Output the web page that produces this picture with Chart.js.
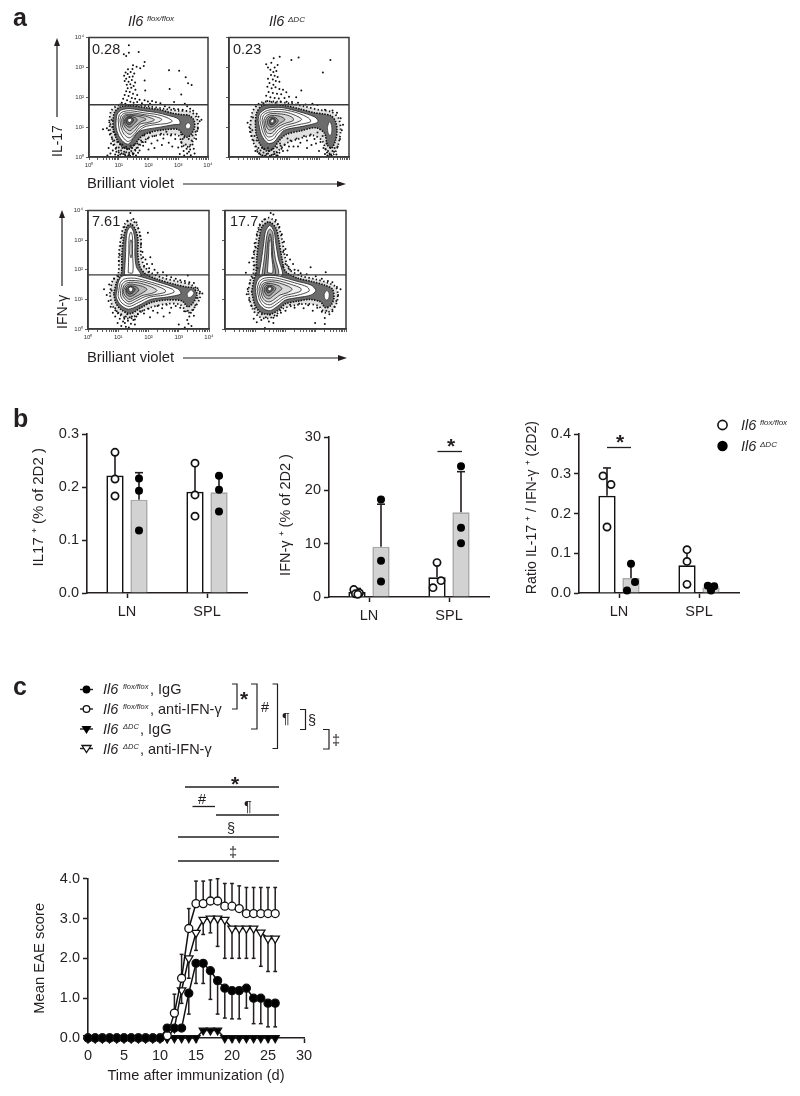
<!DOCTYPE html>
<html>
<head>
<meta charset="utf-8">
<script src="https://cdn.jsdelivr.net/npm/chart.js@4"></script>
<style>
  html, body { margin: 0; background: #fff; }
  #page { position: relative; width: 800px; height: 1096px; overflow: hidden; }
  canvas { position: absolute; }
  canvas.flow { filter: blur(0.4px); }
  svg { position: absolute; left: 0; top: 0; font-family: "Liberation Sans", Arial, sans-serif; fill: #231f20; }
  svg line, svg path.br { stroke: #231f20; fill: none; }
  .it { font-style: italic; }
</style>
</head>
<body>
<div id="page">
  <canvas id="flow1" class="flow"></canvas>
  <canvas id="flow2" class="flow"></canvas>
  <canvas id="flow3" class="flow"></canvas>
  <canvas id="flow4" class="flow"></canvas>
  <canvas id="bar1"></canvas>
  <canvas id="bar2"></canvas>
  <canvas id="bar3"></canvas>
  <canvas id="eae"></canvas>

  <!-- labels, arrows and significance marks around the charts -->
  <svg width="800" height="1096">
    <text x="13" y="26" font-size="25" font-weight="bold">a</text>
    <text x="13" y="427" font-size="25" font-weight="bold">b</text>
    <text x="13" y="695" font-size="25" font-weight="bold">c</text>

    <text x="128" y="26" font-size="14.5" class="it">Il6</text>
    <text x="147" y="21" font-size="8" class="it">flox/flox</text>
    <text x="269" y="26" font-size="14.5" class="it">Il6</text>
    <text x="288" y="22" font-size="8" class="it">ΔDC</text>

    <text x="92" y="54" font-size="14.5">0.28</text>
    <text x="233" y="54" font-size="14.5">0.23</text>
    <text x="92" y="226" font-size="14.5">7.61</text>
    <text x="230" y="226" font-size="14.5">17.7</text>

    <text transform="translate(62,157) rotate(-90)" font-size="14">IL-17</text>
    <text transform="translate(67,329) rotate(-90)" font-size="14">IFN-γ</text>
    <text x="87" y="188" font-size="14.8">Brilliant violet</text>
    <text x="87" y="362" font-size="14.8">Brilliant violet</text>

    <line x1="57" y1="117" x2="57" y2="44" stroke-width="1.2"/>
    <polygon points="57,38 54,46 60,46"/>
    <line x1="62" y1="286" x2="62" y2="216" stroke-width="1.2"/>
    <polygon points="62,210 59,218 65,218"/>
    <line x1="183" y1="184" x2="338" y2="184" stroke-width="1.2"/>
    <polygon points="346,184 337,181 337,187"/>
    <line x1="183" y1="358" x2="338" y2="358" stroke-width="1.2"/>
    <polygon points="347,358 338,355 338,361"/>

    <!-- panel b marks -->
    <line x1="437.5" y1="451.5" x2="462" y2="451.5" stroke-width="1.3"/>
    <text x="451" y="453" font-size="21" font-weight="bold" text-anchor="middle">*</text>
    <line x1="607" y1="447.5" x2="631" y2="447.5" stroke-width="1.3"/>
    <text x="620" y="449" font-size="21" font-weight="bold" text-anchor="middle">*</text>

    <circle cx="722.5" cy="425" r="4.6" fill="#fff" stroke="#111" stroke-width="1.6"/>
    <circle cx="722.5" cy="446" r="5.2" fill="#000"/>
    <text x="741" y="430" font-size="14.5" class="it">Il6</text>
    <text x="760" y="425" font-size="8" class="it">flox/flox</text>
    <text x="741" y="451" font-size="14.5" class="it">Il6</text>
    <text x="760" y="447" font-size="8" class="it">ΔDC</text>

    <!-- panel c legend -->
    <g stroke-width="1.4">
      <line x1="80" y1="689.5" x2="93" y2="689.5"/>
      <line x1="80" y1="709" x2="93" y2="709"/>
      <line x1="80" y1="729" x2="93" y2="729"/>
      <line x1="80" y1="748.5" x2="93" y2="748.5"/>
    </g>
    <circle cx="86.5" cy="689.5" r="3.9" fill="#000"/>
    <circle cx="86.5" cy="709" r="3.3" fill="#fff" stroke="#111" stroke-width="1.3"/>
    <polygon points="81.5,726 91.5,726 86.5,734" fill="#000"/>
    <polygon points="82,745.5 91,745.5 86.5,752.5" fill="#fff" stroke="#111" stroke-width="1.3"/>

    <text x="103" y="694" font-size="14.5" class="it">Il6</text>
    <text x="123" y="689" font-size="7.5" class="it">flox/flox</text>
    <text x="150" y="694" font-size="14.5">, IgG</text>
    <text x="103" y="714" font-size="14.5" class="it">Il6</text>
    <text x="123" y="709" font-size="7.5" class="it">flox/flox</text>
    <text x="150" y="714" font-size="14.5">, anti-IFN-γ</text>
    <text x="103" y="734" font-size="14.5" class="it">Il6</text>
    <text x="123" y="729" font-size="7.5" class="it">ΔDC</text>
    <text x="140" y="734" font-size="14.5">, IgG</text>
    <text x="103" y="753.5" font-size="14.5" class="it">Il6</text>
    <text x="123" y="749" font-size="7.5" class="it">ΔDC</text>
    <text x="140" y="753.5" font-size="14.5">, anti-IFN-γ</text>

    <g stroke-width="1.2">
      <path class="br" d="M232,684 H237 V709 H232"/>
      <path class="br" d="M251,684 H257 V729 H251"/>
      <path class="br" d="M272.5,684 H277.5 V748.5 H272.5"/>
      <path class="br" d="M300,709.5 H305.5 V729.5 H300"/>
      <path class="br" d="M323,729.5 H329 V749 H323"/>
    </g>
    <text x="244" y="706" font-size="21" font-weight="bold" text-anchor="middle">*</text>
    <text x="265" y="712" font-size="14.5" text-anchor="middle">#</text>
    <text x="286" y="723" font-size="14.5" text-anchor="middle">¶</text>
    <text x="312" y="725" font-size="14.5" text-anchor="middle">§</text>
    <text x="336" y="745" font-size="14.5" text-anchor="middle">‡</text>

    <g stroke-width="1.3">
      <line x1="185" y1="787" x2="279" y2="787"/>
      <line x1="192.5" y1="806.5" x2="215" y2="806.5"/>
      <line x1="216" y1="815" x2="279" y2="815"/>
      <line x1="178" y1="837" x2="279" y2="837"/>
      <line x1="178" y1="861" x2="279" y2="861"/>
    </g>
    <text x="235" y="791" font-size="21" font-weight="bold" text-anchor="middle">*</text>
    <text x="202" y="804" font-size="14.5" text-anchor="middle">#</text>
    <text x="248" y="811" font-size="14.5" text-anchor="middle">¶</text>
    <text x="231" y="833" font-size="14.5" text-anchor="middle">§</text>
    <text x="233" y="857" font-size="14.5" text-anchor="middle">‡</text>
  </svg>
</div>

<script>
// ---------- panel a: flow plots, all values in log10 decades, flat x,y lists ----------
const decadeLabels = ["10⁰", "10¹", "10²", "10³", "10⁴"];
const minorDecades = [0.3, 0.48, 0.6, 0.7, 0.78, 0.85, 0.9, 0.95];
const gateP1 = 1.75;
const gateP2 = 1.75;
const gateP3 = 1.83;
const gateP4 = 1.83;

const p1Dots = [
  1.34,3.74, 1.34,3.49, 1.17,3.44, 1.25,3.38, 1.67,3.52, 1.87,3.18, 1.84,3.05, 1.48,3.07, 1.31,2.94, 1.23,2.83,
  1.46,2.95, 1.6,3.02, 1.72,2.97, 1.18,2.72, 1.3,2.78, 1.4,2.85, 1.52,2.8, 1.25,2.62, 1.36,2.68, 1.47,2.7,
  1.2,2.55, 1.33,2.52, 1.44,2.58, 1.55,2.5, 1.27,2.42, 1.39,2.44, 1.5,2.38, 1.3,2.3, 1.42,2.32, 1.56,2.25,
  1.25,2.2, 1.37,2.18, 1.48,2.12, 1.62,2.08, 1.2,2.08, 1.33,2.04, 1.44,1.98, 1.55,1.95, 1.7,1.92, 1.15,1.95,
  1.28,1.9, 1.39,1.85, 1.5,1.82, 1.62,1.84, 1.78,1.8, 1.1,1.82, 1.22,1.78, 1.87,2.56, 1.89,2.23, 1.87,1.9,
  2.69,2.91, 3.03,2.89, 3.25,2.67, 3.33,2.47, 3.45,2.41, 2.71,2.28, 3.1,2.09, 2.86,1.84, 3.22,1.78, 1.98,1.86,
  2.12,1.88, 2.25,1.83, 2.4,1.8, 2.05,1.78, 1.05,1.76,
  0.47,0.93, 0.6,0.96, 0.66,0.9, 0.72,1.1, 0.76,1.25, 0.7,0.75, 0.78,0.6, 0.74,0.45, 0.82,0.4, 0.66,0.3,
  0.8,0.22, 0.9,0.28, 0.62,0.05, 0.72,0.12, 0.88,0.08, 1.0,0.15, 1.08,0.22, 1.15,0.1, 1.25,0.16, 1.32,0.05,
  1.42,0.2, 1.5,0.12, 1.6,0.3, 1.7,0.22, 1.82,0.38, 1.9,0.5, 1.98,0.62, 2.1,0.45, 2.2,0.7, 2.3,0.55,
  2.42,0.78, 2.5,0.62, 2.6,0.85, 2.68,0.48, 2.75,0.72, 2.05,0.8, 1.75,0.55, 1.62,0.45, 1.85,0.72, 2.9,0.6,
  3.0,0.32, 3.1,0.5, 3.18,0.2, 3.25,0.42, 3.3,0.12, 3.38,0.35, 3.45,0.55, 3.52,0.28, 3.6,0.6, 3.1,0.75,
  3.2,0.65, 3.35,0.6, 3.48,0.72, 3.58,0.85, 3.66,0.95, 3.72,1.2, 3.68,1.35, 3.62,1.45, 3.5,1.55, 3.4,1.62,
  3.3,1.7, 3.15,1.58, 3.0,1.6, 2.85,1.62, 2.7,1.66, 2.55,1.7, 3.78,1.25, 1.2,0.3, 1.35,0.28, 1.05,0.42,
  0.95,0.5, 1.0,0.32, 1.05,0.08, 1.12,0.3, 1.18,0.18, 1.22,0.05, 1.28,0.26, 1.35,0.14, 1.38,0.04, 1.45,0.3,
  1.48,0.08, 1.55,0.24, 1.58,0.05, 1.65,0.14, 0.92,0.18, 0.98,0.05, 0.85,0.55, 0.9,0.75, 0.82,0.85, 0.78,1.0,
  1.12,0.42, 1.25,0.34, 1.4,0.38, 1.52,0.4, 1.68,0.42, 1.78,0.5, 3.05,0.1, 3.12,0.35, 3.2,0.05, 3.28,0.28,
  3.36,0.18, 3.42,0.06, 3.48,0.42, 3.55,0.12, 3.15,0.6, 3.4,0.25, 2.2,0.3, 2.45,0.4, 2.0,0.25, 2.8,0.35
];
const p1Contours = [
  [0.91,1.22, 0.95,1.44, 1.1,1.58, 1.38,1.62, 1.83,1.55, 2.27,1.49, 2.67,1.39, 3.0,1.28, 3.06,1.11, 2.83,1.08, 2.39,1.0, 1.94,0.93, 1.66,0.84, 1.49,0.62, 1.32,0.43, 1.15,0.51, 0.99,0.73, 0.91,1.0],
  [0.98,1.24, 1.02,1.42, 1.15,1.52, 1.4,1.55, 1.85,1.48, 2.3,1.42, 2.62,1.32, 2.8,1.2, 2.6,1.12, 2.2,1.08, 1.85,1.0, 1.62,0.82, 1.42,0.58, 1.3,0.52, 1.15,0.65, 1.02,0.9],
  [1.04,1.24, 1.08,1.38, 1.2,1.47, 1.45,1.48, 1.85,1.42, 2.2,1.36, 2.45,1.26, 2.3,1.16, 1.95,1.1, 1.7,0.98, 1.52,0.76, 1.35,0.64, 1.18,0.76, 1.08,0.98],
  [1.1,1.24, 1.14,1.36, 1.26,1.43, 1.5,1.42, 1.85,1.38, 2.1,1.3, 2.2,1.24, 2.0,1.16, 1.72,1.1, 1.55,0.9, 1.38,0.76, 1.22,0.85, 1.12,1.04],
  [1.15,1.25, 1.2,1.36, 1.32,1.4, 1.55,1.38, 1.8,1.33, 1.92,1.26, 1.75,1.18, 1.55,1.02, 1.38,0.88, 1.24,0.96, 1.16,1.1],
  [1.2,1.25, 1.26,1.34, 1.4,1.36, 1.55,1.32, 1.62,1.24, 1.52,1.12, 1.38,1.0, 1.26,1.04, 1.2,1.14],
  [1.24,1.26, 1.32,1.33, 1.44,1.32, 1.5,1.24, 1.42,1.12, 1.32,1.08, 1.25,1.15],
  [1.3,1.26, 1.38,1.3, 1.44,1.24, 1.38,1.16, 1.31,1.18]
];
const p1RimInner = [0.8,1.2, 0.86,1.5, 1.05,1.68, 1.4,1.72, 1.9,1.65, 2.4,1.58, 2.8,1.47, 3.1,1.42, 3.35,1.4, 3.52,1.25, 3.55,1.0, 3.45,0.78, 3.3,0.66, 3.15,0.75, 3.0,0.92, 2.6,0.92, 2.1,0.84, 1.8,0.72, 1.55,0.44, 1.35,0.27, 1.1,0.37, 0.92,0.62, 0.82,0.92];
const p1RimOuter = [0.68,1.2, 0.75,1.55, 1.0,1.74, 1.4,1.74, 2.0,1.7, 2.5,1.62, 3.0,1.55, 3.4,1.52, 3.62,1.32, 3.66,0.98, 3.55,0.65, 3.35,0.35, 3.15,0.4, 3.0,0.72, 2.5,0.75, 2.0,0.65, 1.7,0.38, 1.45,0.12, 1.1,0.12, 0.85,0.42, 0.72,0.85];
const p1Hole = [3.24,1.05, 3.32,1.15, 3.41,1.08, 3.38,0.96, 3.28,0.95];

const p2Dots = [
  1.69,3.36, 1.49,3.31, 1.24,3.11, 1.41,3.16, 2.08,3.25, 2.32,3.33, 3.38,3.25, 3.13,2.83, 1.3,3.0, 1.52,3.0,
  1.62,3.08, 1.38,2.92, 1.48,2.85, 1.58,2.88, 1.4,2.75, 1.52,2.72, 1.62,2.68, 1.3,2.62, 1.46,2.6, 1.56,2.55,
  1.68,2.52, 1.35,2.48, 1.48,2.42, 1.28,2.35, 1.42,2.3, 1.55,2.34, 1.68,2.28, 1.8,2.25, 1.32,2.18, 1.46,2.14,
  1.6,2.12, 1.74,2.1, 1.91,2.17, 1.24,2.05, 1.38,2.0, 1.52,1.98, 1.66,1.96, 1.85,1.98, 2.0,2.02, 2.24,2.0,
  2.41,2.23, 1.28,1.88, 1.42,1.84, 1.56,1.82, 1.72,1.86, 1.92,1.85, 2.1,1.84, 2.3,1.82, 2.55,1.76, 2.78,1.78,
  2.95,1.74, 1.15,1.8,
  0.62,1.15, 0.68,1.0, 0.7,0.85, 0.75,0.7, 0.8,1.32, 0.82,0.55, 0.9,0.35, 0.95,0.18, 1.05,0.08, 1.15,0.15,
  1.2,0.04, 1.3,0.12, 1.42,0.07, 1.5,0.18, 1.58,0.05, 1.68,0.14, 1.75,0.28, 1.85,0.4, 1.95,0.22, 2.05,0.55,
  2.15,0.35, 2.25,0.62, 2.38,0.48, 2.5,0.7, 2.6,0.55, 2.72,0.75, 2.85,0.6, 2.95,0.82, 3.05,0.5, 3.12,0.7,
  3.15,0.3, 3.2,0.1, 3.28,0.05, 3.35,0.12, 3.42,0.04, 3.5,0.18, 3.58,0.08, 3.62,0.35, 3.7,0.6, 3.76,0.9,
  3.8,1.08, 3.72,1.3, 3.6,1.48, 3.45,1.56, 3.2,1.58, 1.95,0.62, 1.7,0.45, 1.6,0.32, 1.1,0.3, 1.3,0.3,
  0.92,0.55, 0.98,0.3, 1.05,0.22, 1.12,0.05, 1.18,0.28, 1.25,0.1, 1.35,0.2, 1.38,0.02, 1.45,0.28, 1.52,0.1,
  1.6,0.15, 0.78,0.9, 0.85,0.7, 0.88,0.2, 1.0,0.12, 1.62,0.05, 1.72,0.38, 1.8,0.2, 3.22,0.25, 3.3,0.2,
  3.38,0.3, 3.45,0.2, 3.25,0.45, 3.52,0.3, 3.32,0.02, 3.4,0.08, 2.3,0.35, 2.0,0.35, 2.6,0.3, 2.9,0.45, 3.0,0.2, 2.75,0.4
];
const p2Contours = [
  [0.97,1.23, 1.02,1.45, 1.24,1.62, 1.5,1.66, 1.8,1.65, 2.36,1.51, 2.86,1.34, 2.97,1.18, 2.7,1.08, 2.36,1.01, 1.85,0.9, 1.66,0.7, 1.5,0.5, 1.3,0.46, 1.08,0.74],
  [1.03,1.22, 1.08,1.42, 1.28,1.56, 1.55,1.6, 1.85,1.58, 2.3,1.47, 2.66,1.3, 2.72,1.18, 2.3,1.08, 1.9,0.98, 1.65,0.82, 1.48,0.6, 1.3,0.56, 1.14,0.8],
  [1.1,1.22, 1.15,1.4, 1.32,1.5, 1.6,1.52, 1.9,1.5, 2.2,1.4, 2.42,1.26, 2.2,1.14, 1.88,1.06, 1.65,0.92, 1.45,0.7, 1.28,0.68, 1.18,0.88],
  [1.16,1.22, 1.22,1.36, 1.38,1.45, 1.62,1.45, 1.88,1.42, 2.12,1.32, 2.14,1.22, 1.85,1.12, 1.62,1.0, 1.44,0.8, 1.28,0.8, 1.2,0.98],
  [1.22,1.22, 1.28,1.34, 1.42,1.39, 1.62,1.38, 1.8,1.32, 1.86,1.24, 1.68,1.12, 1.5,0.96, 1.34,0.9, 1.24,1.04],
  [1.28,1.22, 1.34,1.32, 1.48,1.34, 1.6,1.28, 1.64,1.2, 1.52,1.06, 1.38,1.0, 1.3,1.08],
  [1.34,1.22, 1.42,1.3, 1.52,1.28, 1.56,1.2, 1.48,1.1, 1.38,1.08],
  [1.4,1.24, 1.47,1.27, 1.5,1.2, 1.44,1.14, 1.39,1.17]
];
const p2RimInner = [0.88,1.2, 0.92,1.48, 1.1,1.72, 1.5,1.76, 1.9,1.72, 2.4,1.6, 2.85,1.48, 3.1,1.45, 3.4,1.38, 3.55,1.2, 3.6,0.9, 3.55,0.55, 3.42,0.3, 3.28,0.4, 3.18,0.8, 2.9,0.98, 2.4,0.88, 1.9,0.75, 1.65,0.52, 1.48,0.28, 1.25,0.2, 1.02,0.45, 0.9,0.8];
const p2RimOuter = [0.72,1.2, 0.8,1.55, 1.05,1.82, 1.5,1.86, 2.0,1.8, 2.5,1.7, 3.0,1.58, 3.4,1.52, 3.65,1.3, 3.72,0.9, 3.65,0.45, 3.5,0.1, 3.3,0.1, 3.1,0.55, 2.8,0.72, 2.3,0.6, 1.9,0.45, 1.65,0.22, 1.4,0.05, 1.1,0.05, 0.85,0.4, 0.72,0.85];
const p2Hole = [3.28,1.0, 3.35,1.18, 3.42,1.05, 3.42,0.8, 3.36,0.72, 3.3,0.82];

const p3Dots = [
  1.4,3.92, 1.5,3.72, 1.3,3.66, 1.6,3.6, 1.2,3.45, 1.66,3.4, 1.12,3.1, 1.72,3.15, 1.08,2.8, 1.75,2.85,
  1.05,2.5, 1.8,2.6, 1.02,2.3, 1.82,2.42, 1.12,2.05, 1.98,3.25, 1.9,2.35, 2.06,2.42, 2.12,2.2, 1.95,2.2,
  2.02,2.05, 2.2,2.0, 1.85,2.1, 2.0,1.92, 2.3,1.9, 2.48,1.92, 3.3,1.81, 2.6,1.8, 2.75,1.75, 2.9,1.7,
  3.05,1.65, 3.2,1.62, 3.35,1.58, 3.5,1.55, 3.62,1.38, 3.7,1.26, 3.78,1.2, 3.62,1.05, 3.55,0.8, 3.48,0.65,
  3.4,0.55, 3.35,0.42, 3.28,0.3, 3.5,0.45, 3.3,0.62, 3.18,0.6, 3.05,0.72, 2.9,0.78, 2.75,0.72, 2.6,0.82,
  2.45,0.7, 2.3,0.78, 2.15,0.62, 2.0,0.68, 1.85,0.52, 1.72,0.6, 1.6,0.42, 1.5,0.3, 1.42,0.18, 1.32,0.28,
  1.22,0.2, 1.16,0.25, 1.05,0.35, 0.98,0.2, 0.9,0.42, 0.82,0.55, 0.75,0.75, 0.68,0.95, 0.62,1.15, 0.53,1.34,
  0.7,1.5, 0.78,1.3, 0.86,1.7, 1.0,1.78, 0.95,0.6, 1.1,0.5, 1.25,0.42, 1.38,0.4, 2.05,0.4, 2.5,0.42,
  3.0,0.15, 3.42,0.1, 3.2,0.05, 1.35,0.05, 1.25,0.08, 2.3,0.55, 2.7,0.55, 1.55,0.15, 1.1,0.1, 3.32,0.18,
  0.9,0.7, 1.0,0.55, 1.2,0.35, 1.3,0.5, 1.45,0.42, 1.55,0.32, 1.65,0.5, 1.8,0.62
];
const p3Contours = [
  [0.96,1.3, 1.0,1.58, 1.12,1.78, 1.4,1.82, 1.62,1.8, 2.29,1.6, 2.96,1.36, 3.07,1.19, 2.62,1.08, 2.07,1.0, 1.68,0.8, 1.34,0.67, 1.07,0.82, 0.93,1.08],
  [1.02,1.3, 1.06,1.54, 1.18,1.68, 1.42,1.72, 1.65,1.7, 2.25,1.53, 2.8,1.34, 2.84,1.24, 2.5,1.14, 2.05,1.08, 1.68,0.9, 1.36,0.76, 1.12,0.88, 1.0,1.1],
  [1.08,1.3, 1.12,1.5, 1.25,1.62, 1.45,1.64, 1.7,1.62, 2.2,1.48, 2.55,1.32, 2.55,1.24, 2.2,1.16, 1.9,1.1, 1.62,0.96, 1.36,0.84, 1.18,0.95, 1.08,1.12],
  [1.14,1.3, 1.18,1.46, 1.3,1.56, 1.5,1.58, 1.75,1.54, 2.1,1.42, 2.28,1.3, 2.1,1.2, 1.82,1.14, 1.58,1.02, 1.36,0.92, 1.22,1.02, 1.14,1.16],
  [1.18,1.32, 1.25,1.46, 1.38,1.52, 1.55,1.5, 1.8,1.44, 1.95,1.34, 1.8,1.22, 1.55,1.08, 1.38,1.0, 1.26,1.08, 1.18,1.2],
  [1.24,1.34, 1.3,1.44, 1.45,1.46, 1.6,1.42, 1.68,1.32, 1.56,1.18, 1.4,1.1, 1.28,1.16],
  [1.28,1.36, 1.36,1.43, 1.48,1.42, 1.56,1.34, 1.48,1.22, 1.36,1.18, 1.28,1.26],
  [1.34,1.37, 1.4,1.42, 1.48,1.38, 1.46,1.28, 1.38,1.26]
];
const p3Column = [
  [1.2,1.8, 1.24,2.5, 1.26,3.0, 1.3,3.3, 1.4,3.45, 1.5,3.3, 1.55,3.0, 1.55,2.5, 1.6,2.1, 1.75,1.8],
  [1.33,1.9, 1.35,2.6, 1.36,3.1, 1.42,3.28, 1.47,3.1, 1.47,2.6, 1.48,1.9],
  [1.38,2.55, 1.4,3.0, 1.44,3.0, 1.45,2.55, 1.42,2.4]
];
const p3RimInner = [0.85,1.2, 0.95,1.6, 1.1,1.85, 1.12,2.5, 1.18,3.1, 1.28,3.45, 1.42,3.55, 1.55,3.4, 1.65,3.05, 1.65,2.5, 1.72,2.1, 1.88,1.88, 2.3,1.68, 2.9,1.5, 3.25,1.42, 3.5,1.38, 3.6,1.15, 3.45,0.85, 3.3,0.75, 3.1,0.95, 2.6,0.98, 2.1,0.9, 1.75,0.72, 1.4,0.52, 1.1,0.65, 0.92,0.88];
const p3RimOuter = [0.72,1.2, 0.82,1.65, 1.0,1.85, 1.02,2.5, 1.1,3.15, 1.22,3.55, 1.42,3.68, 1.62,3.5, 1.75,3.05, 1.75,2.5, 1.85,2.15, 2.05,1.92, 2.5,1.72, 3.0,1.6, 3.4,1.5, 3.65,1.3, 3.7,1.05, 3.5,0.7, 3.3,0.55, 3.05,0.82, 2.6,0.85, 2.05,0.72, 1.7,0.55, 1.4,0.35, 1.05,0.48, 0.8,0.8];
const p3Hole = [3.28,1.2, 3.4,1.32, 3.5,1.22, 3.4,1.08, 3.3,1.08];

const p4Dots = [
  1.51,3.92, 1.6,3.87, 1.3,3.7, 1.68,3.68, 1.15,3.5, 1.8,3.45, 1.05,3.2, 1.88,3.2, 0.98,2.9, 1.95,2.95,
  0.95,2.6, 2.0,2.7, 0.9,2.4, 2.05,2.5, 0.8,2.25, 0.69,1.9, 2.15,2.35, 2.25,2.2, 2.42,1.98, 2.83,2.09,
  2.1,2.1, 2.3,2.0, 2.5,1.88, 2.7,1.85, 3.33,1.92, 3.0,1.78, 3.2,1.7, 3.4,1.62, 3.55,1.58, 3.7,1.42,
  3.82,1.34, 3.74,1.15, 3.68,0.95, 3.62,0.75, 3.55,0.6, 3.45,0.5, 3.35,0.62, 3.2,0.58, 3.05,0.72, 2.9,0.62,
  2.75,0.8, 2.6,0.7, 2.45,0.85, 2.3,0.72, 2.15,0.82, 2.0,0.62, 1.85,0.55, 1.72,0.45, 1.6,0.38, 1.48,0.48,
  1.35,0.4, 1.22,0.5, 1.1,0.55, 0.98,0.68, 0.88,0.78, 0.8,0.98, 0.72,1.17, 0.75,1.35, 0.82,1.55, 0.92,1.72,
  1.0,1.85, 1.05,0.23, 1.32,0.03, 2.98,0.2, 3.3,0.17, 3.3,0.37, 1.2,0.3, 1.45,0.25, 0.95,0.35, 1.6,0.2,
  1.08,2.05, 0.98,2.15, 1.02,2.75, 1.12,3.35, 1.75,3.55, 1.92,2.6, 2.0,2.2, 2.15,2.0, 1.92,2.1
];
const p4Contours = [
  [1.0,1.35, 1.05,1.6, 1.2,1.78, 1.5,1.82, 1.8,1.78, 2.35,1.62, 2.85,1.48, 3.0,1.3, 2.85,1.15, 2.4,1.06, 2.0,0.98, 1.75,0.78, 1.5,0.62, 1.28,0.68, 1.08,0.92],
  [1.06,1.35, 1.12,1.58, 1.25,1.7, 1.52,1.74, 1.8,1.7, 2.3,1.56, 2.72,1.42, 2.78,1.28, 2.4,1.14, 2.0,1.06, 1.75,0.88, 1.5,0.72, 1.3,0.76, 1.14,0.98],
  [1.12,1.35, 1.18,1.54, 1.3,1.64, 1.54,1.66, 1.82,1.62, 2.2,1.5, 2.5,1.38, 2.5,1.28, 2.2,1.18, 1.95,1.12, 1.72,0.96, 1.5,0.82, 1.32,0.86, 1.18,1.04],
  [1.18,1.36, 1.24,1.52, 1.36,1.58, 1.56,1.6, 1.8,1.55, 2.1,1.44, 2.22,1.34, 2.05,1.22, 1.82,1.15, 1.65,1.02, 1.48,0.92, 1.32,0.96, 1.22,1.12],
  [1.24,1.38, 1.3,1.5, 1.42,1.54, 1.6,1.52, 1.78,1.46, 1.88,1.36, 1.75,1.24, 1.6,1.12, 1.46,1.02, 1.34,1.06, 1.26,1.2],
  [1.3,1.38, 1.36,1.47, 1.48,1.48, 1.62,1.44, 1.68,1.36, 1.58,1.22, 1.46,1.12, 1.36,1.16, 1.3,1.28],
  [1.36,1.38, 1.42,1.44, 1.52,1.44, 1.6,1.36, 1.52,1.26, 1.42,1.22, 1.36,1.3],
  [1.42,1.38, 1.48,1.42, 1.54,1.38, 1.5,1.3, 1.43,1.3]
];
const p4Column = [
  [1.12,1.8, 1.2,2.3, 1.28,2.9, 1.34,3.3, 1.48,3.5, 1.62,3.3, 1.68,2.9, 1.76,2.4, 1.88,1.8],
  [1.22,1.82, 1.3,2.4, 1.36,3.0, 1.42,3.3, 1.49,3.38, 1.58,3.25, 1.6,2.9, 1.66,2.4, 1.76,1.82],
  [1.3,1.84, 1.37,2.4, 1.42,2.95, 1.49,3.22, 1.55,2.95, 1.58,2.4, 1.66,1.84],
  [1.4,1.9, 1.44,2.5, 1.47,3.0, 1.52,3.0, 1.54,2.5, 1.58,1.9]
];
const p4RimInner = [0.88,1.25, 0.95,1.65, 1.02,1.85, 1.05,2.4, 1.12,3.0, 1.22,3.45, 1.45,3.62, 1.68,3.42, 1.78,3.0, 1.88,2.4, 2.0,1.95, 2.4,1.72, 2.9,1.6, 3.3,1.48, 3.55,1.35, 3.6,1.05, 3.5,0.8, 3.32,0.72, 3.15,0.92, 2.8,1.0, 2.4,0.94, 2.0,0.85, 1.78,0.65, 1.5,0.5, 1.2,0.55, 1.0,0.78];
const p4RimOuter = [0.76,1.25, 0.85,1.7, 0.94,1.9, 0.95,2.4, 1.04,3.05, 1.16,3.55, 1.45,3.76, 1.74,3.52, 1.88,3.05, 1.98,2.45, 2.12,2.02, 2.5,1.8, 3.0,1.68, 3.4,1.56, 3.68,1.4, 3.72,1.0, 3.58,0.68, 3.32,0.55, 3.08,0.78, 2.7,0.85, 2.3,0.8, 1.9,0.68, 1.7,0.5, 1.45,0.36, 1.12,0.42, 0.9,0.7];
const p4Hole = [3.28,1.18, 3.36,1.3, 3.44,1.2, 3.42,1.02, 3.35,0.98, 3.29,1.05];

// ---------- panel b: bars, replicates and whisker tops ----------
const tissues = ["LN", "SPL"];

const il17Flox = [0.2216, 0.191];
const il17Ko = [0.176, 0.19];
const il17FloxTop = [0.2655, 0.245];
const il17KoTop = [0.227, 0.22];
const il17FloxDots = [0,0.2655, 0,0.215, 0,0.183, 1,0.245, 1,0.185, 1,0.145];
const il17KoDots = [0,0.216, 0,0.193, 0,0.118, 1,0.221, 1,0.195, 1,0.154];

const ifnFlox = [0.95, 3.7];
const ifnKo = [9.4, 15.9];
const ifnFloxTop = [1.6, 6.45];
const ifnKoTop = [17.4, 23.5];
const ifnFloxDots = [-0.04,1.4, -0.02,0.6, 0.03,0.75, 0.01,0.5, 1.0,6.45, 1.05,3.07, 0.95,1.75];
const ifnKoDots = [0,18.3, 0,6.8, 0,2.9, 1,24.5, 1,13, 1,10.1];

const ratioFlox = [0.2444, 0.0695];
const ratioKo = [0.0377, 0.0142];
const ratioFloxTop = [0.3146, 0.109];
const ratioKoTop = [0.0736, 0.02];
const ratioFloxDots = [-0.05,0.2946, 0.05,0.273, 0,0.166, 1,0.109, 1,0.0795, 1,0.0218];
const ratioKoDots = [0,0.0736, 0.05,0.0276, -0.05,0.006, 0.96,0.018, 1.04,0.0167, 1,0.006];

// ---------- panel c: EAE course ----------
const days = [0,1,2,3,4,5,6,7,8,9,10,11,12,13,14,15,16,17,18,19,20,21,22,23,24,25,26];
const floxIgG = [0,0,0,0,0,0,0,0,0,0,0,0.25,0.25,0.25,1.125,1.875,1.875,1.69,1.44,1.25,1.19,1.19,1.25,1.0,1.0,0.875,0.875];
const floxAnti = [0,0,0,0,0,0,0,0,0,0,0,0.06,0.625,1.5,2.75,3.375,3.375,3.44,3.44,3.31,3.31,3.25,3.125,3.125,3.125,3.125,3.125];
const koIgG = [0,0,0,0,0,0,0,0,0,0,0,0,0,0,0,0,0.19,0.19,0.19,0,0,0,0,0,0,0,0];
const koAnti = [0,0,0,0,0,0,0,0,0,0,0,0,0.25,1.2,2.0,2.64,2.97,3.0,3.0,2.97,2.75,2.75,2.75,2.75,2.65,2.5,2.5];
const floxIgGLow = [null,null,null,null,null,null,null,null,null,null,null,null,null,null,0.6,1.37,1.37,0.97,0.6,0.5,0.48,0.48,0.75,0.36,0.36,0.28,0.28];
const floxAntiHigh = [null,null,null,null,null,null,null,null,null,null,null,0.2,1.1,2.1,3.25,3.94,3.94,3.97,4.0,3.88,3.88,3.82,3.78,3.78,3.78,3.78,3.78];
const koAntiLow = [null,null,null,null,null,null,null,null,null,null,null,null,null,0.87,1.5,2.2,2.6,2.64,2.3,2.0,2.0,2.0,2.0,2.0,1.8,1.67,1.67];

// ---------- helpers ----------
const ink = "#231f20";
const fontFamily = '"Liberation Sans", Arial, sans-serif';

function xy(flat) {
  const out = [];
  for (let i = 0; i < flat.length; i += 2) out.push({ x: flat[i], y: flat[i + 1] });
  return out;
}
function loop(flat) {
  const pts = xy(flat);
  pts.push(pts[0]);
  return pts;
}
function place(id, left, top, w, h) {
  const c = document.getElementById(id);
  c.width = w;
  c.height = h;
  c.style.left = left + "px";
  c.style.top = top + "px";
  return c;
}
// whisker segments: mean -> end, then a gap; the cap is a 'line' point on the end
function whiskers(xs, means, ends, cap, width) {
  const data = [];
  xs.forEach((x, i) => {
    if (ends[i] === null) return;
    data.push({ x: x, y: means[i] }, { x: x, y: ends[i] }, { x: x, y: null });
  });
  return {
    type: "scatter", showLine: true, data: data, clip: false, spanGaps: false,
    borderColor: ink, borderWidth: width, pointStyle: "line",
    pointBorderColor: ink, pointBorderWidth: width,
    pointRadius: ctx => (ctx.dataIndex % 3 === 1 ? cap : 0)
  };
}

// ---------- flow plots ----------
const depthFills = ["#ffffff", "#ffffff", "#f0f0f0", "#d8d8d8", "#b8b8b8", "#909090", "#606060", "#ffffff"];

function contourSet(list, fills) {
  // first dataset ends up on top in chart.js, so inner contours go first
  return list.map((c, i) => ({
    data: loop(c), showLine: true, pointRadius: 0, tension: 0.3, clip: false,
    borderColor: "#222", borderWidth: 0.8, fill: "shape", backgroundColor: fills[i]
  })).reverse();
}

function flowChart(id, box, p) {
  const canvas = place(id, box.left - 24, box.top - 4, box.w + 31, box.h + 22);
  const frame = [0,0, 4,0, 4,4, 0,4, 0,0];
  const datasets = [
    { data: xy([0, p.gate, 4, p.gate]), showLine: true, pointRadius: 0, borderColor: "#3a3a3a", borderWidth: 1.4 },
    { data: xy(frame), showLine: true, pointRadius: 0, borderColor: "#3a3a3a", borderWidth: 1.5, clip: false },
    ...contourSet(p.contours, depthFills),
    ...(p.column ? contourSet(p.column, p.columnFills) : []),
    { data: loop(p.hole), showLine: true, pointRadius: 0, tension: 0.3, borderWidth: 0.6, borderColor: "#222", fill: "shape", backgroundColor: "#fff" },
    { data: loop(p.rimInner), showLine: true, pointRadius: 0, tension: 0.3, borderColor: "#111", borderWidth: 1.6, borderDash: [1.5, 1.2], fill: "shape", backgroundColor: "rgba(35,35,35,0.62)" },
    { data: loop(p.rimOuter), showLine: true, pointRadius: 0, tension: 0.3, borderColor: "#111", borderWidth: 1.8, borderDash: [1.4, 2.4], fill: "shape", backgroundColor: "rgba(90,90,90,0.18)" },
    { data: xy(p.dots), pointRadius: 1, pointBackgroundColor: "#111", pointBorderWidth: 0 }
  ];
  return new Chart(canvas, {
    type: "scatter",
    data: { datasets: datasets },
    options: {
      responsive: false, animation: false,
      layout: { padding: { top: 4, right: 7 } },
      plugins: { legend: { display: false }, tooltip: { enabled: false } },
      scales: {
        x: {
          type: "linear", min: 0, max: 4,
          afterFit: s => { s.height = 18; },
          afterBuildTicks: s => {
            const t = [];
            for (let d = 0; d < 4; d++) {
              t.push({ value: d });
              minorDecades.forEach(m => t.push({ value: d + m }));
            }
            t.push({ value: 4 });
            s.ticks = t;
          },
          border: { color: "#3a3a3a", width: 1.5 },
          grid: { drawOnChartArea: false, tickLength: 3, tickColor: "#333", tickWidth: 0.8 },
          ticks: {
            autoSkip: false, maxRotation: 0, padding: 2, color: "#333",
            font: { size: 6, family: fontFamily },
            callback: v => (p.showX && Number.isInteger(v) ? decadeLabels[v] : "")
          }
        },
        y: {
          type: "linear", min: 0, max: 4,
          afterFit: s => { s.width = 24; },
          border: { color: "#3a3a3a", width: 1.5 },
          grid: { drawOnChartArea: false, tickLength: 3, tickColor: "#333", tickWidth: 0.8 },
          ticks: {
            stepSize: 1, padding: 2, color: "#333",
            font: { size: 6, family: fontFamily },
            callback: v => (p.showY ? decadeLabels[v] : "")
          }
        }
      }
    }
  });
}

flowChart("flow1", { left: 89, top: 36, w: 119, h: 121 },
  { gate: gateP1, dots: p1Dots, contours: p1Contours, rimInner: p1RimInner, rimOuter: p1RimOuter, hole: p1Hole, showX: true, showY: true });
flowChart("flow2", { left: 229, top: 36, w: 120, h: 121 },
  { gate: gateP2, dots: p2Dots, contours: p2Contours, rimInner: p2RimInner, rimOuter: p2RimOuter, hole: p2Hole, showX: false, showY: false });
flowChart("flow3", { left: 88, top: 209, w: 121, h: 120 },
  { gate: gateP3, dots: p3Dots, contours: p3Contours, column: p3Column, columnFills: ["#ffffff", "#ffffff", "#ffffff"], rimInner: p3RimInner, rimOuter: p3RimOuter, hole: p3Hole, showX: true, showY: true });
flowChart("flow4", { left: 225, top: 209, w: 121, h: 120 },
  { gate: gateP4, dots: p4Dots, contours: p4Contours, column: p4Column, columnFills: ["#ffffff", "#aaaaaa", "#999999", "#ffffff"], rimInner: p4RimInner, rimOuter: p4RimOuter, hole: p4Hole, showX: false, showY: false });

// ---------- bar charts ----------
const barOffset = 0.15; // 12px out of the 80px category

function barChart(id, box, d) {
  const canvas = place(id, box.left - 60, box.top - 24, 60 + 160 + 6, 24 + box.h + 30);
  const centres = tissues.map((_, i) => i);
  const shifted = (flat, off) => xy(flat).map(p => ({ x: p.x + off, y: p.y }));
  return new Chart(canvas, {
    type: "bar",
    data: {
      labels: tissues,
      datasets: [
        { type: "scatter", data: shifted(d.floxDots, -barOffset), xAxisID: "xd", order: 0, clip: false,
          pointRadius: 3.6, pointBackgroundColor: "#fff", pointBorderColor: "#111", pointBorderWidth: 1.7 },
        { type: "scatter", data: shifted(d.koDots, barOffset), xAxisID: "xd", order: 0, clip: false,
          pointRadius: 4, pointBackgroundColor: "#000", pointBorderColor: "#000", pointBorderWidth: 0 },
        Object.assign(whiskers(centres.map(c => c - barOffset), d.flox, d.floxTop, 4, 1.6), { xAxisID: "xd", order: 1 }),
        Object.assign(whiskers(centres.map(c => c + barOffset), d.ko, d.koTop, 4, 1.6), { xAxisID: "xd", order: 1 }),
        { label: "flox", data: d.flox, backgroundColor: "#fff", borderColor: "#111", borderWidth: 1.7, order: 2,
          categoryPercentage: 1.2, barPercentage: 0.72 },
        { label: "ko", data: d.ko, backgroundColor: "#d2d2d2", borderColor: "#a9a9a9", borderWidth: 1.7, order: 2,
          categoryPercentage: 1.2, barPercentage: 0.72 }
      ]
    },
    options: {
      responsive: false, animation: false,
      layout: { padding: { top: 24, right: 6 } },
      plugins: { legend: { display: false }, tooltip: { enabled: false } },
      scales: {
        x: {
          afterFit: s => { s.height = 30; },
          border: { color: ink, width: 1.6 },
          grid: { offset: false, drawOnChartArea: false, tickLength: 5, tickColor: ink, tickWidth: 1.5 },
          ticks: { color: ink, padding: 5, font: { size: 14.5, family: fontFamily } }
        },
        xd: { type: "linear", display: false, offset: false, min: -0.5, max: 1.5 },
        y: {
          min: 0, max: d.max,
          afterFit: s => { s.width = 60; },
          border: { color: ink, width: 1.6 },
          grid: { drawOnChartArea: false, tickLength: 5, tickColor: ink, tickWidth: 1.5 },
          title: { display: true, text: d.title, color: ink, padding: { top: d.titlePad, bottom: 0 }, font: { size: d.titleSize, family: fontFamily } },
          ticks: { stepSize: d.step, color: ink, padding: 3, font: { size: 14.5, family: fontFamily },
            callback: v => v.toFixed(d.digits) }
        }
      }
    }
  });
}

barChart("bar1", { left: 87, top: 434, h: 159 }, {
  flox: il17Flox, ko: il17Ko, floxTop: il17FloxTop, koTop: il17KoTop, floxDots: il17FloxDots, koDots: il17KoDots,
  max: 0.3, step: 0.1, digits: 1, title: "\u00a0\u00a0\u00a0IL17 ⁺ (% of 2D2 )", titlePad: 3, titleSize: 15
});
barChart("bar2", { left: 329, top: 437, h: 160 }, {
  flox: ifnFlox, ko: ifnKo, floxTop: ifnFloxTop, koTop: ifnKoTop, floxDots: ifnFloxDots, koDots: ifnKoDots,
  max: 30, step: 10, digits: 0, title: "\u00a0IFN-γ ⁺ (% of 2D2 )", titlePad: 8, titleSize: 14.5
});
barChart("bar3", { left: 579, top: 434, h: 159 }, {
  flox: ratioFlox, ko: ratioKo, floxTop: ratioFloxTop, koTop: ratioKoTop, floxDots: ratioFloxDots, koDots: ratioKoDots,
  max: 0.4, step: 0.1, digits: 1, title: "\u00a0\u00a0\u00a0Ratio IL-17 ⁺ / IFN-γ ⁺ (2D2)", titlePad: 5, titleSize: 14.2
});

// ---------- EAE time course ----------
const courseCanvas = place("eae", 30, 867, 294, 10 + 161 + 47);

function courseLine(values, extra) {
  return Object.assign({
    data: days.map((d, i) => ({ x: d, y: values[i] })),
    showLine: true, clip: false, borderColor: "#111", borderWidth: 1.5, tension: 0,
    pointBorderColor: "#111", pointBorderWidth: 1.3
  }, extra);
}

new Chart(courseCanvas, {
  type: "scatter",
  data: {
    datasets: [
      courseLine(floxIgG, { pointRadius: 4, pointBackgroundColor: "#000" }),
      courseLine(floxAnti, { pointRadius: 4, pointBackgroundColor: "#fff" }),
      courseLine(koIgG, { pointStyle: "triangle", rotation: 180, pointRadius: 4.6, pointBackgroundColor: "#000" }),
      courseLine(koAnti, { pointStyle: "triangle", rotation: 180, pointRadius: 4.8, pointBackgroundColor: "#fff" }),
      whiskers(days, floxIgG, floxIgGLow, 1.9, 1.5),
      whiskers(days, floxAnti, floxAntiHigh, 1.9, 1.5),
      whiskers(days, koAnti, koAntiLow, 1.9, 1.5)
    ]
  },
  options: {
    responsive: false, animation: false,
    layout: { padding: { top: 10, right: 20 } },
    plugins: { legend: { display: false }, tooltip: { enabled: false } },
    scales: {
      x: {
        type: "linear", min: 0, max: 30,
        afterFit: s => { s.height = 47; },
        border: { color: ink, width: 1.6 },
        grid: { drawOnChartArea: false, tickLength: 5, tickColor: ink, tickWidth: 1.5 },
        title: { display: true, text: "Time after immunization (d)", color: ink, padding: 0, font: { size: 14.6, family: fontFamily } },
        ticks: { stepSize: 5, color: ink, padding: 4, font: { size: 14.5, family: fontFamily } }
      },
      y: {
        type: "linear", min: 0, max: 4,
        afterFit: s => { s.width = 58; },
        border: { color: ink, width: 1.6 },
        grid: { drawOnChartArea: false, tickLength: 5, tickColor: ink, tickWidth: 1.5 },
        title: { display: true, text: "Mean EAE score", color: ink, padding: { top: 1, bottom: 0 }, font: { size: 14.8, family: fontFamily } },
        ticks: { stepSize: 1, color: ink, padding: 3, font: { size: 14.5, family: fontFamily }, callback: v => v.toFixed(1) }
      }
    }
  }
});
</script>
</body>
</html>
